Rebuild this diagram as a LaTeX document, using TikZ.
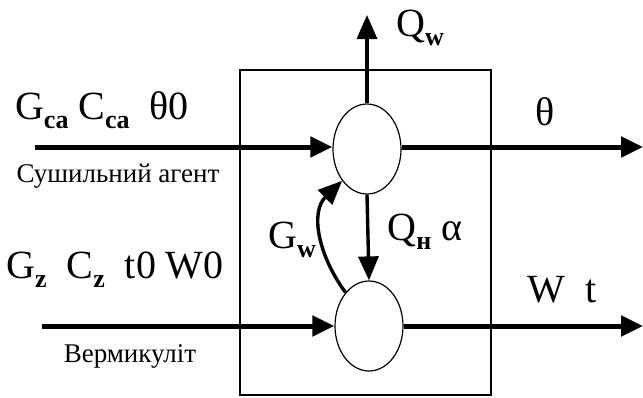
\documentclass[tikz,border=0pt]{standalone}
\usepackage{fontspec}
\setmainfont{Liberation Serif}
\usetikzlibrary{arrows.meta,positioning,shapes.geometric}
\newcommand{\lowsub}[1]{\raisebox{-0.5ex}{\fontsize{13}{14}\selectfont\bfseries #1}}

\begin{document}
\begin{tikzpicture}[x=0.5pt, y=-0.5pt,
    font=\fontsize{20}{22}\selectfont,
    chamber/.style={draw, line width=0.8pt},
    zone/.style={draw, ellipse, line width=0.6pt, minimum width=34pt, minimum height=45pt, inner sep=0pt},
    flow/.style={-{Triangle[length=11pt,width=10pt]}, line width=2.5pt},
    link/.style={-{Triangle[length=12pt,width=10pt]}, line width=1.7pt},
    caption/.style={font=\fontsize{13.5}{15}\selectfont}
]
\useasboundingbox (0,0) rectangle (643,397);
\draw[chamber] (240,70) rectangle (491,395);
\node[zone] (agent) at (367,149) {};
\node[zone] (verm) at (369,326) {};
\coordinate (srcA) at (35,147);
\coordinate (sinkA) at (643,147);
\coordinate (srcB) at (42,326);
\coordinate (sinkB) at (643,326);
\coordinate (vent) at (367,15);
% streams
\draw[flow] (srcA) -- (agent.west |- srcA);
\draw[flow] (agent.east |- sinkA) -- (sinkA);
\draw[flow] (srcB) -- (verm.west);
\draw[flow] (verm.east) -- (sinkB);
\draw[link] (agent.north) -- (vent);
\draw[link] (agent.south) -- (verm.north);
\draw[link] (verm.125) .. controls (318,255) and (310,212) .. (agent.232);
% labels
\node (inAlab) at (102,110) {G\lowsub{ca}\ C\lowsub{ca}\ \ θ0};
\node[caption] (inAcap) at (118,176) {Сушильний агент};
\node (inBlab) at (115,270) {G\lowsub{z}\ \ C\lowsub{z}\ \ t0\ W0};
\node[caption] (inBcap) at (130,356) {Вермикуліт};
\node (outAlab) at (545,112) {θ};
\node (outBlab) at (562,290) {W\ \ t};
\node (qwlab) at (420,28) {Q\lowsub{w}};
\node (qnlab) at (425,232) {Q\lowsub{н} α};
\node (gwlab) at (292,240) {G\lowsub{w}};
\end{tikzpicture}
\end{document}
